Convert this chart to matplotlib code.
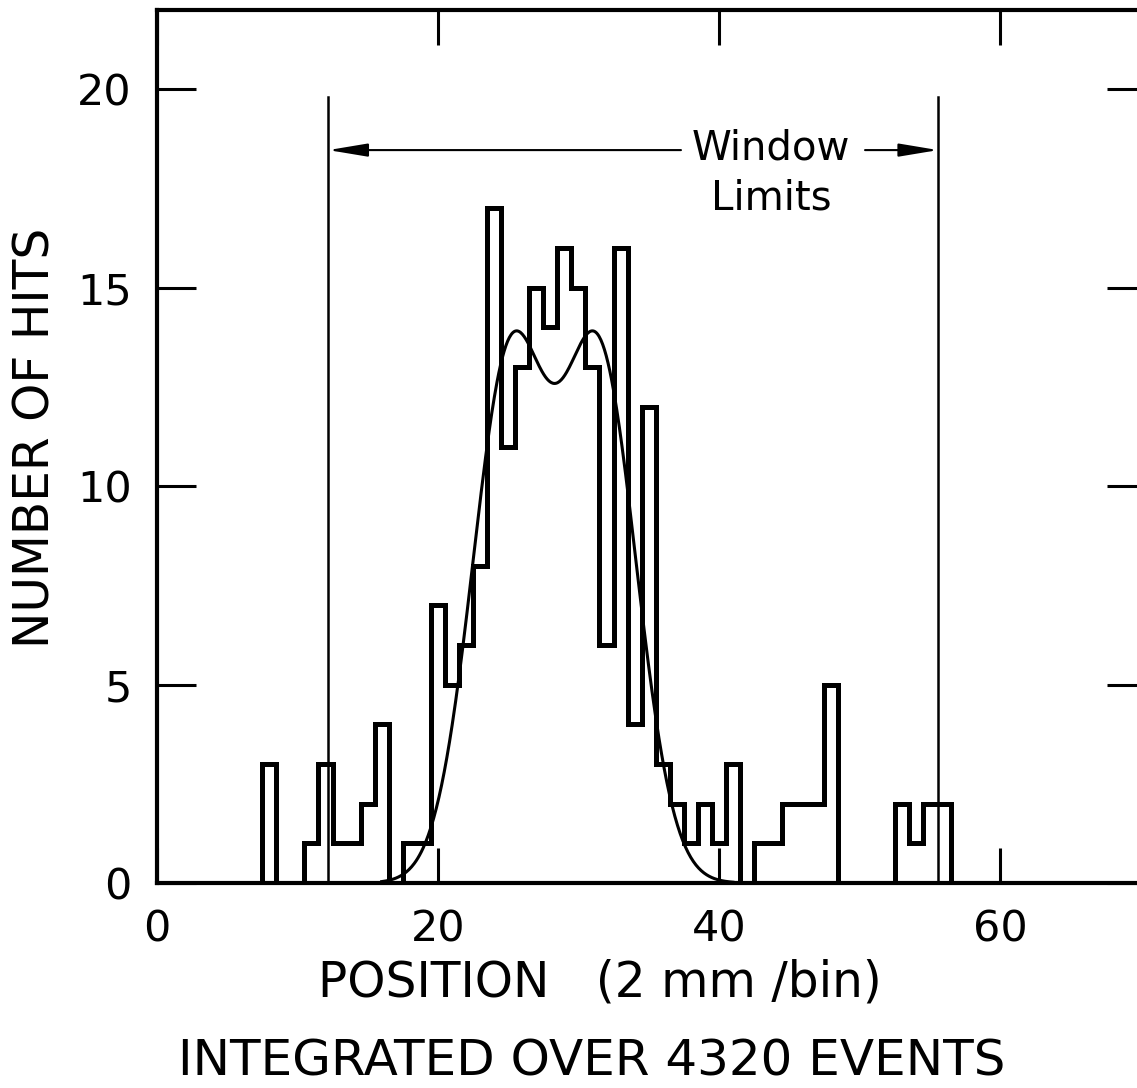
import numpy as np
import matplotlib
matplotlib.use("Agg")
import matplotlib.pyplot as plt

#-----Data-----#

# bin centres (position, 2 mm/bin) and hits per bin
bin_centres = np.arange(8, 57)
hits = [3, 0, 0, 1, 3, 1, 1, 2, 4, 0, 1, 1, 7, 5, 6, 8, 17, 11, 13, 15,
        14, 16, 15, 13, 6, 16, 4, 12, 3, 2, 1, 2, 1, 3, 0, 1, 1, 2, 2, 2,
        5, 0, 0, 0, 0, 2, 1, 2, 2]

# fitted curve: two gaussians
fit_centres = [25.1, 31.5]
fit_sigma = 2.65
fit_amp = 13.05
fit_range = [16.0, 41.0]

# window limits
window_lo = 12.2
window_hi = 55.6

x_ticks = [0, 20, 40, 60]
y_ticks = [0, 5, 10, 15, 20]

#--/--Data--/--#

def FitCurve(x):
    y = np.zeros_like(x)
    for c in fit_centres:
        y += fit_amp * np.exp(-(x - c) ** 2 / (2 * fit_sigma ** 2))
    return y

plt.rcParams['font.family'] = ['DejaVu Sans']

fig = plt.figure(figsize=(11.37, 10.88), dpi=100)
ax = fig.add_axes([0.138, 0.1884, 0.865, 0.8024])

edges = np.append(bin_centres - 0.5, bin_centres[-1] + 0.5)
ax.stairs(hits, edges, baseline=0, color="black", linewidth=3.6)

xf = np.linspace(fit_range[0], fit_range[1], 400)
ax.plot(xf, FitCurve(xf), color="black", linewidth=2.2)

# window limits with arrows
ax.plot([window_lo, window_lo], [0, 19.8], color="black", linewidth=1.8)
ax.plot([window_hi, window_hi], [0, 19.8], color="black", linewidth=1.8)
arrow = dict(arrowstyle="-|>,head_length=2.4,head_width=0.4",
             color="black", linewidth=1.5, shrinkA=0, shrinkB=0)
ax.annotate("", xy=(window_lo, 18.47), xytext=(37.3, 18.47), arrowprops=arrow)
ax.annotate("", xy=(window_hi, 18.47), xytext=(50.4, 18.47), arrowprops=arrow)
ax.text(43.7, 18.5, "Window", ha="center", va="center", fontsize=29)
ax.text(43.7, 17.25, "Limits", ha="center", va="center", fontsize=29)

ax.set_xlim(0, 70)
ax.set_ylim(0, 22)
ax.set_xticks(x_ticks)
ax.set_yticks(y_ticks)
ax.tick_params(axis="both", direction="in", labelsize=31, width=2.2,
               colors="black")
ax.tick_params(axis="x", length=25, pad=18, top=True)
ax.tick_params(axis="y", length=28, pad=18, right=True)
for t in ax.yaxis.get_major_ticks():
    t.tick2line.set_markersize(24)

for s in ["left", "top", "bottom"]:
    ax.spines[s].set_linewidth(3.0)
ax.spines["right"].set_visible(False)

fig.text(0.031, 0.598, "NUMBER OF HITS", rotation=90, ha="center",
         va="center", fontsize=35)
fig.text(0.528, 0.0974, "POSITION   (2 mm /bin)", ha="center",
         va="center", fontsize=35)
fig.text(0.52, 0.024, "INTEGRATED OVER 4320 EVENTS", ha="center",
         va="center", fontsize=36)

fig.savefig("out.png", dpi=100)
